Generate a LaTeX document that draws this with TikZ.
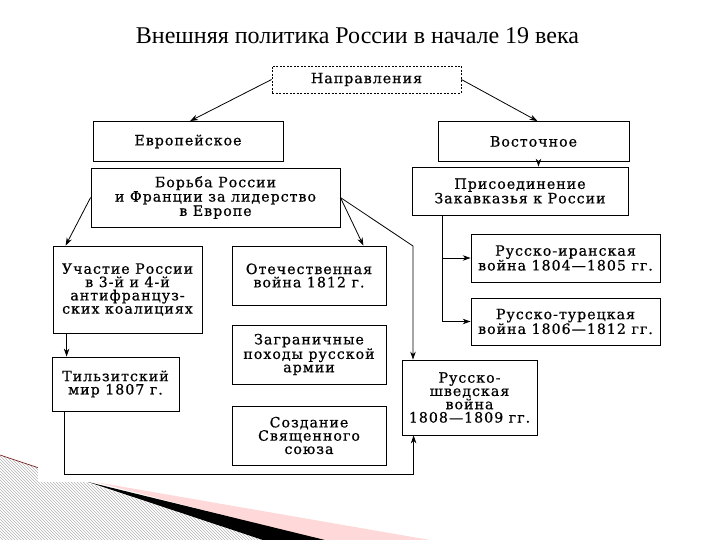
\documentclass[tikz,border=0pt]{standalone}
\usepackage{fontspec}
\setmainfont{Liberation Serif}
\newfontfamily\boxfont[LetterSpace=7,FakeBold=0.6]{DejaVu Serif}
\usetikzlibrary{arrows.meta,patterns,calc}
\tikzset{
  box/.style={draw, line width=0.8pt, align=center, inner sep=0pt,
    font=\boxfont\fontsize{14.2}{13.3}\selectfont},
  arr/.style={line width=0.8pt, -{Stealth[length=8pt,width=5.5pt]}},
  ln/.style={line width=0.8pt}
}
\begin{document}
\begin{tikzpicture}[x=1pt,y=-1pt]
\useasboundingbox (0,0) rectangle (720,540);
% decoration bottom-left
\fill[pattern=north west lines, pattern color=gray!60] (0,455) -- (265,540) -- (0,540) -- cycle;
\draw[red!40!black, line width=0.5pt] (0,455) -- (60,475);
\fill[pink!60] (95,482) -- (430,540) -- (320,540) -- cycle;
\fill[black] (88,482) -- (325,540) -- (263,540) -- cycle;
\fill[white] (38,0) rectangle (715,482);
% title
\node[anchor=base, font=\fontsize{24}{28}\selectfont] (title) at (357.5,44) {Внешняя политика России в начале 19 века};
% boxes
\node[box, dashed, dash pattern=on 2pt off 1.5pt, minimum width=189, minimum height=27] (napr) at (366.5,79.5) {Направления};
\node[box, minimum width=190, minimum height=40] (evr) at (188,141.5) {Европейское};
\node[box, minimum width=191, minimum height=40] (vost) at (533.5,141.5) {Восточное};
\node[box, minimum width=249, minimum height=59] (borba) at (215.5,197.5) {Борьба России\\и Франции за лидерство\\в Европе};
\node[box, minimum width=149, minimum height=87] (uch) at (127.5,289.5) {Участие России\\в 3-й и 4-й\\антифранцуз-\\ских коалициях};
\node[box, minimum width=154, minimum height=59] (otech) at (309,275.5) {Отечественная\\война 1812 г.};
\node[box, minimum width=154, minimum height=59] (zagr) at (309,354.5) {Заграничные\\походы русской\\армии};
\node[box, minimum width=154, minimum height=59] (sozd) at (309,435.5) {Создание\\Священного\\союза};
\node[box, minimum width=127, minimum height=54] (tilz) at (115.5,384) {Тильзитский\\мир 1807 г.};
\node[box, minimum width=216, minimum height=48] (pris) at (520,191) {Присоединение\\Закавказья к России};
\node[box, minimum width=189, minimum height=48] (iran) at (565.5,258) {Русско-иранская\\война 1804—1805 гг.};
\node[box, minimum width=189, minimum height=47] (tur) at (565.5,321.5) {Русско-турецкая\\война 1806—1812 гг.};
\node[box, minimum width=135, minimum height=75] (shved) at (469.5,397.5) {Русско-\\шведская\\война\\1808—1809 гг.};
% connectors
\draw[arr] (napr.west) -- ([xshift=2]evr.north);
\draw[arr] (napr.east) -- ([xshift=4]vost.north);
\draw[arr] ([xshift=5]vost.south) -- ([xshift=5]vost.south |- pris.north);
\draw[arr] (borba.west) -- ([xshift=13]uch.north west);
\draw[arr] (borba.east) -- ([xshift=-23]otech.north east);
\coordinate (bend) at (413,246);
\draw[arr] (borba.east) -- (bend) -- (bend |- shved.north);
\draw[arr] ([xshift=14]uch.south west) -- ([xshift=14]uch.south west |- tilz.north);
\coordinate (low) at (0,474);
\draw[arr] ([xshift=13]tilz.south west) |- ([xshift=12]shved.south west |- low) -- ([xshift=12]shved.south west);
\coordinate (vl) at ([xshift=31]pris.south west);
\draw[arr] (vl) |- (tur.west);
\draw[arr] (vl |- iran.west) -- (iran.west);
\end{tikzpicture}
\end{document}
